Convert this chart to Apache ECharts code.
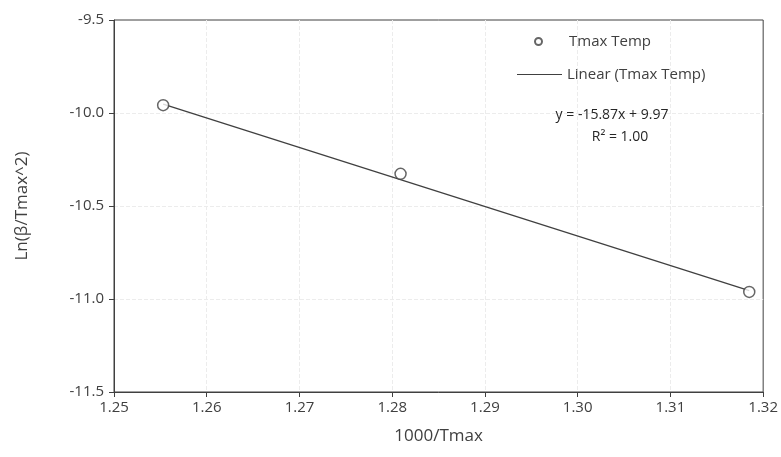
<!DOCTYPE html>
<html><head><meta charset="utf-8">
<script src="https://cdn.jsdelivr.net/npm/echarts@6/dist/echarts.min.js"></script>
<style>html,body{margin:0;padding:0;background:#fff}#c{width:781px;height:457px}</style>
</head><body><div id="c"></div>
<script>
var xValues = [1.2553, 1.2809, 1.3185];
var yValues = [-9.958, -10.327, -10.962];
var trendX = [1.2553, 1.3185];
var trendY = [-9.952, -10.955];
var equationText = 'y = -15.87x + 9.97';
var r2Text = 'R² = 1.00';
var seriesNames = ['Tmax Temp', 'Linear (Tmax Temp)'];

var font = 'Open Sans';
var chart = echarts.init(document.getElementById('c'));
chart.setOption({
  animation: false,
  backgroundColor: '#fff',
  textStyle: {fontFamily: font},
  grid: {left: 114, right: 15, top: 20, bottom: 65, show: true, borderColor: '#404040', borderWidth: 1, backgroundColor: 'transparent'},
  xAxis: {
    type: 'value', min: 1.25, max: 1.32, interval: 0.01,
    name: '1000/Tmax', nameLocation: 'middle', nameGap: 36,
    nameTextStyle: {color: '#404040', fontSize: 17, fontFamily: font},
    axisLine: {onZero: false, lineStyle: {color: '#404040', width: 1}},
    axisTick: {show: true, length: 5, lineStyle: {color: '#404040'}},
    axisLabel: {color: '#404040', fontSize: 15, margin: 8, formatter: function(v){return v.toFixed(2);}},
    splitLine: {show: true, showMinLine: false, showMaxLine: false, lineStyle: {color: '#ececec', type: 'dashed', width: 1}}
  },
  yAxis: {
    type: 'value', min: -11.5, max: -9.5, interval: 0.5,
    name: 'Ln(β/Tmax^2)', nameLocation: 'middle', nameGap: 83, nameRotate: 90,
    nameTextStyle: {color: '#404040', fontSize: 17, fontFamily: font},
    axisLine: {show: true, onZero: false, lineStyle: {color: '#404040', width: 1}},
    axisTick: {show: true, length: 5, lineStyle: {color: '#404040'}},
    axisLabel: {color: '#404040', fontSize: 15, margin: 10, formatter: function(v){return v.toFixed(1);}},
    splitLine: {show: true, showMinLine: false, showMaxLine: false, lineStyle: {color: '#ececec', type: 'dashed', width: 1}}
  },
  legend: [
    {data: [{name: seriesNames[0], icon: 'circle'}], left: 534, top: 34, padding: 0, itemWidth: 7, itemHeight: 7, itemGap: 0,
     textStyle: {color: '#404040', fontSize: 15, fontFamily: font, padding: [0,0,0,22]}},
    {data: [{name: seriesNames[1], icon: 'path://M0,0 L50,0 L50,1 L0,1 Z'}], left: 517, top: 67, padding: 0, itemWidth: 45, itemHeight: 1,
     textStyle: {color: '#404040', fontSize: 15, fontFamily: font, padding: [0,0,0,0]}}
  ],
  series: [
    {
      name: seriesNames[0], type: 'scatter', symbol: 'circle', symbolSize: 11,
      itemStyle: {color: '#fff', borderColor: '#404040', borderWidth: 1.5},
      data: xValues.map(function(x, i){return [x, yValues[i]];}),
      z: 3
    },
    {
      name: seriesNames[1], type: 'line', symbol: 'none',
      lineStyle: {color: '#404040', width: 1.3},
      itemStyle: {color: '#404040'},
      data: trendX.map(function(x, i){return [x, trendY[i]];}),
      z: 2
    }
  ],
  graphic: [
    {type: 'text', z: 100, x: 612, y: 115, style: {text: equationText, fill: '#262626', fontSize: 14, fontFamily: font, align: 'center', verticalAlign: 'middle'}},
    {type: 'text', z: 100, x: 620, y: 137, style: {text: r2Text, fill: '#262626', fontSize: 14, fontFamily: font, align: 'center', verticalAlign: 'middle'}}
  ]
});
</script></body></html>
